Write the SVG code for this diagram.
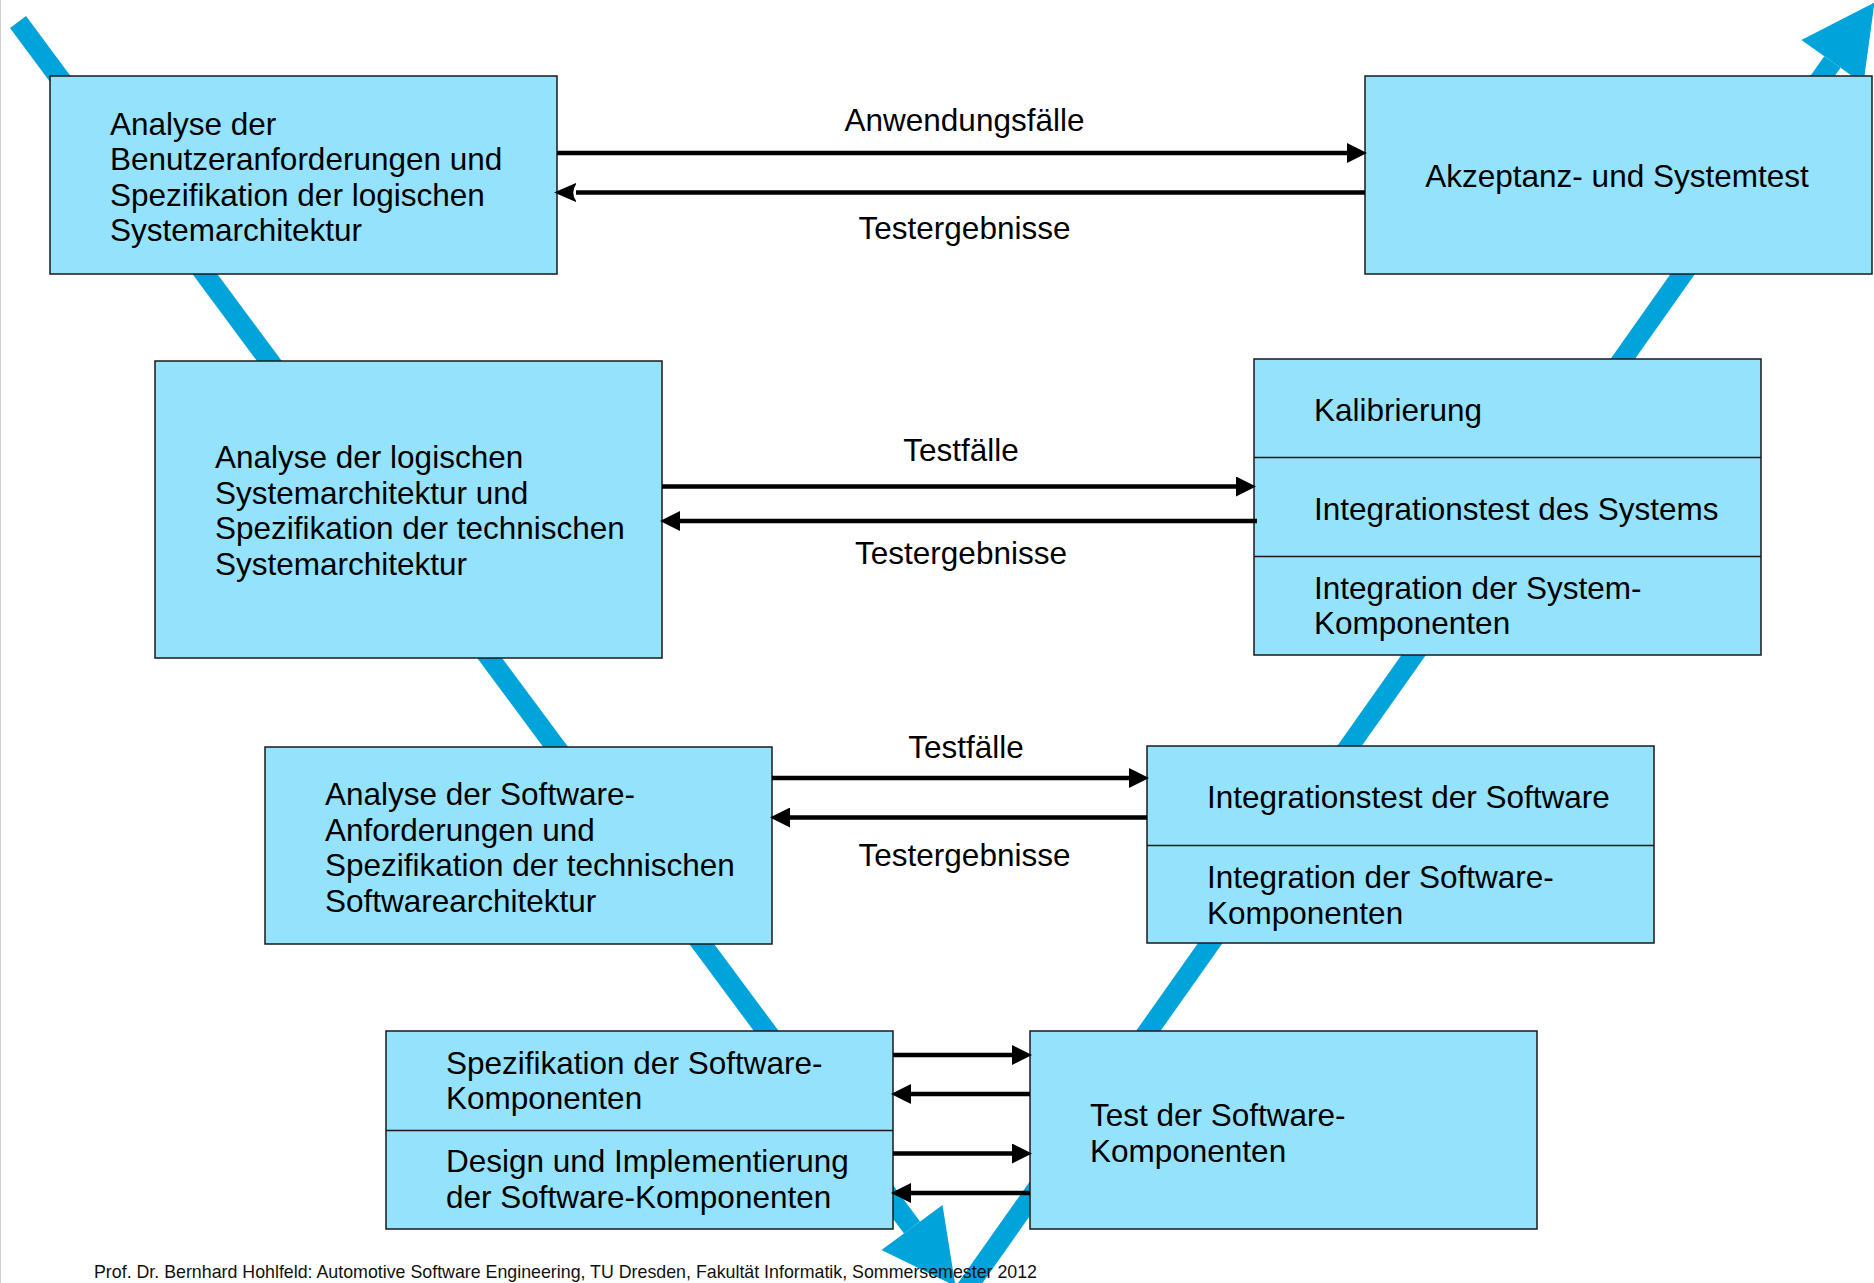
<svg xmlns="http://www.w3.org/2000/svg" width="1874" height="1283" viewBox="0 0 1874 1283">
  <style>
    .box { fill: #94E2FC; stroke: #1a1a1a; stroke-width: 1.5; }
    .sep { stroke: #1a1a1a; stroke-width: 1.5; }
    .t { font-family: "Liberation Sans", Arial, Helvetica, sans-serif; font-size: 31.5px; fill: #000; }
    .lbl { font-family: "Liberation Sans", Arial, Helvetica, sans-serif; font-size: 31.5px; fill: #000; text-anchor: middle; }
    .foot { font-family: "Liberation Sans", Arial, Helvetica, sans-serif; font-size: 19px; fill: #111; }
    .flow { stroke: #00A4DA; stroke-width: 20; fill: none; }
    .head { fill: #00A4DA; }
    .arr { stroke: #000; stroke-width: 4.5; fill: none; }
  </style>
  <defs>
    <marker id="tri" markerUnits="userSpaceOnUse" markerWidth="20" markerHeight="20" refX="0" refY="9" orient="auto" viewBox="0 0 18 18">
      <path d="M0,0 L18,9 L0,18 Z" fill="#000"/>
    </marker>
    <marker id="barb" markerUnits="userSpaceOnUse" markerWidth="22" markerHeight="20" refX="0" refY="9" orient="auto" viewBox="0 0 20 18">
      <path d="M-1,0 L20,9 L-1,18 Q6,9 -1,0 Z" fill="#000"/>
    </marker>
  </defs>

  <rect width="1874" height="1283" fill="#fff"/>
  <line x1="0.5" y1="0" x2="0.5" y2="1283" stroke="#cfcfcf" stroke-width="1"/>

  <!-- V-model process band: descending left leg, ascending right leg -->
  <g id="v-band">
    <line class="flow" x1="18" y1="22" x2="912" y2="1227.5"/>
    <polygon class="head" points="942.5,1204.9 955.5,1286.1 881.5,1250.1"/>
    <line class="flow" x1="958.3" y1="1300" x2="1832.4" y2="62"/>
    <polygon class="head" points="1801.4,40.1 1874.5,2.4 1863.4,83.9"/>
  </g>

  <!-- left side: specification phases -->
  <g id="n-benutzeranforderungen">
    <rect class="box" x="50" y="76" width="507" height="198"/>
    <text class="t" x="110" y="134.5">Analyse der</text>
    <text class="t" x="110" y="170">Benutzeranforderungen und</text>
    <text class="t" x="110" y="205.5">Spezifikation der logischen</text>
    <text class="t" x="110" y="241">Systemarchitektur</text>
  </g>

  <g id="n-systemarchitektur">
    <rect class="box" x="155" y="361" width="507" height="297"/>
    <text class="t" x="215" y="468">Analyse der logischen</text>
    <text class="t" x="215" y="503.5">Systemarchitektur und</text>
    <text class="t" x="215" y="539">Spezifikation der technischen</text>
    <text class="t" x="215" y="574.5">Systemarchitektur</text>
  </g>

  <g id="n-softwarearchitektur">
    <rect class="box" x="265" y="747" width="507" height="197"/>
    <text class="t" x="325" y="805">Analyse der Software-</text>
    <text class="t" x="325" y="840.5">Anforderungen und</text>
    <text class="t" x="325" y="876">Spezifikation der technischen</text>
    <text class="t" x="325" y="911.5">Softwarearchitektur</text>
  </g>

  <g id="n-komponenten">
    <rect class="box" x="386" y="1031" width="507" height="198"/>
    <line class="sep" x1="386" y1="1130.5" x2="893" y2="1130.5"/>
    <text class="t" x="446" y="1073.5">Spezifikation der Software-</text>
    <text class="t" x="446" y="1108.5">Komponenten</text>
    <text class="t" x="446" y="1172">Design und Implementierung</text>
    <text class="t" x="446" y="1207.5">der Software-Komponenten</text>
  </g>

  <!-- right side: test and integration phases -->
  <g id="n-akzeptanztest">
    <rect class="box" x="1365" y="76" width="507" height="198"/>
    <text class="lbl" x="1617" y="186.5">Akzeptanz- und Systemtest</text>
  </g>

  <g id="n-systemintegration">
    <rect class="box" x="1254" y="359" width="507" height="296"/>
    <line class="sep" x1="1254" y1="457.5" x2="1761" y2="457.5"/>
    <line class="sep" x1="1254" y1="556.5" x2="1761" y2="556.5"/>
    <text class="t" x="1314" y="421">Kalibrierung</text>
    <text class="t" x="1314" y="519.5">Integrationstest des Systems</text>
    <text class="t" x="1314" y="598.5">Integration der System-</text>
    <text class="t" x="1314" y="634">Komponenten</text>
  </g>

  <g id="n-softwareintegration">
    <rect class="box" x="1147" y="746" width="507" height="197"/>
    <line class="sep" x1="1147" y1="845.5" x2="1654" y2="845.5"/>
    <text class="t" x="1207" y="808">Integrationstest der Software</text>
    <text class="t" x="1207" y="888">Integration der Software-</text>
    <text class="t" x="1207" y="923.5">Komponenten</text>
  </g>

  <g id="n-komponententest">
    <rect class="box" x="1030" y="1031" width="507" height="198"/>
    <text class="t" x="1090" y="1125.5">Test der Software-</text>
    <text class="t" x="1090" y="1161.5">Komponenten</text>
  </g>

  <!-- horizontal exchanges between the two legs -->
  <g id="connectors">
    <line class="arr" x1="557" y1="153" x2="1347" y2="153" marker-end="url(#tri)"/>
    <line class="arr" x1="1365" y1="192.5" x2="576" y2="192.5" marker-end="url(#barb)"/>
    <text class="lbl" x="964.5" y="131">Anwendungsfälle</text>
    <text class="lbl" x="964.5" y="238.5">Testergebnisse</text>

    <line class="arr" x1="662" y1="486.5" x2="1236" y2="486.5" marker-end="url(#tri)"/>
    <line class="arr" x1="1257" y1="521" x2="680" y2="521" marker-end="url(#tri)"/>
    <text class="lbl" x="961" y="461">Testfälle</text>
    <text class="lbl" x="961" y="563.5">Testergebnisse</text>

    <line class="arr" x1="772" y1="778" x2="1129" y2="778" marker-end="url(#tri)"/>
    <line class="arr" x1="1147" y1="817.5" x2="790" y2="817.5" marker-end="url(#tri)"/>
    <text class="lbl" x="966" y="757.5">Testfälle</text>
    <text class="lbl" x="964.5" y="866">Testergebnisse</text>

    <line class="arr" x1="893" y1="1055" x2="1012" y2="1055" marker-end="url(#tri)"/>
    <line class="arr" x1="1030" y1="1094" x2="911" y2="1094" marker-end="url(#tri)"/>
    <line class="arr" x1="893" y1="1153.5" x2="1012" y2="1153.5" marker-end="url(#tri)"/>
    <line class="arr" x1="1030" y1="1193" x2="911" y2="1193" marker-end="url(#tri)"/>
  </g>

  <text class="foot" x="94" y="1278" textLength="943" lengthAdjust="spacingAndGlyphs">Prof. Dr. Bernhard Hohlfeld: Automotive Software Engineering, TU Dresden, Fakultät Informatik, Sommersemester 2012</text>
</svg>
